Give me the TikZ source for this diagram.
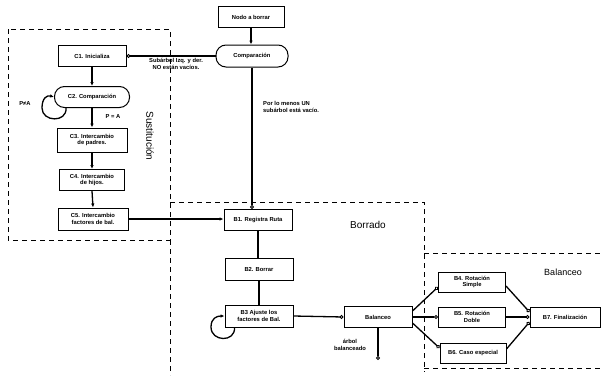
\documentclass[tikz,border=0pt]{standalone}
\usepackage{fontspec}
\setmainfont{Liberation Sans}
\usetikzlibrary{arrows.meta,calc}
\begin{document}
\begin{tikzpicture}[x=1pt,y=-1pt,
  every node/.style={font=\fontsize{5.8}{6.8}\selectfont\bfseries, inner sep=1pt},
  box/.style={draw, line width=1pt, minimum width=68pt, minimum height=21pt, align=center},
  rbox/.style={box, rounded corners=10pt},
  conn/.style={line width=1.3pt, -{Latex[length=4pt,width=3.5pt]}},
  oconn/.style={line width=1.3pt, -{Circle[open,length=4pt,line width=0.9pt]}},
  frame/.style={line width=1pt, dash pattern=on 5pt off 4pt},
  biglabel/.style={font=\fontsize{10}{12}\selectfont}
]
\useasboundingbox (0,0) rectangle (604,375);
\fill[white] (0,0) rectangle (604,375);

% dashed frames
\draw[frame] (8,29) rectangle (170,240);
\draw[frame] (170,240) -- (170,375);
\draw[frame] (170,202) -- (424,202) -- (424,372);
\draw[frame] (424,253) -- (604,253);
\draw[frame] (424,368) -- (604,368);

% top
\node[box, minimum width=66pt] (nodo) at (251,17) {Nodo a borrar};
\node[rbox, minimum width=72pt, minimum height=22pt] (comp) at (252,56) {Comparación};

% Sustitucion
\node[box] (c1) at (92,56) {C1. Inicializa};
\node[rbox, minimum width=75pt] (c2) at (92,97) {C2. Comparación};
\node[box, minimum width=70pt, minimum height=24pt] (c3) at (92,140) {C3. Intercambio\\de padres.};
\node[box, minimum width=65pt] (c4) at (92,180) {C4. Intercambio\\de hijos.};
\node[box, minimum width=70pt, minimum height=22pt] (c5) at (93,219) {C5. Intercambio\\factores de bal.};

% Borrado
\node[box] (b1) at (258,220) {B1. Registra Ruta};
\node[box, minimum height=22pt] (b2) at (259,269) {B2. Borrar};
\node[box, minimum height=22pt] (b3) at (259,316) {B3 Ajuste los\\factores de Bal.};
\node[box] (bal) at (378,317) {Balanceo};

% Balanceo
\node[box, minimum width=67pt, minimum height=20pt] (b4) at (472,282) {B4. Rotación\\Simple};
\node[box, minimum width=67pt, minimum height=20pt] (b5) at (472,317) {B5. Rotación\\Doble};
\node[box, minimum width=66pt, minimum height=20pt] (b6) at (473,353) {B6. Caso especial};
\node[box, minimum width=70pt, minimum height=20pt] (b7) at (565,317) {B7. Finalización};

% labels
\node[biglabel, rotate=-90] (lsus) at (150,136) {Sustitución};
\node[biglabel] (lbor) at (368,225) {Borrado};
\node[biglabel, font=\fontsize{9}{11}\selectfont] (lbal) at (563,272) {Balanceo};
\node[align=center] (lsub) at (176,64) {Subárbol Izq. y der.\\NO están vacíos.};
\node[align=left, anchor=west] (lpor) at (262,107) {Por lo menos UN\\subárbol está vacío.};
\node (lpne) at (25,104) {P≠A};
\node (lpeq) at (113,117) {P = A};
\node[align=center] (larb) at (350,345) {árbol\\balanceado};

% connectors
\draw[conn] (nodo.south) -- (nodo.south |- comp.north);
\draw[oconn] (comp.west) -- (c1.east);
\draw[oconn] (comp.south) -- (comp.south |- b1.north);
\draw[conn] (c1.south) -- (c2.north);
\draw[conn] (c2.south) -- (c3.north);
\draw[conn] (c3.south) -- (c4.north);
\draw[conn] (c4.south) -- (c5.north);
\draw[conn] (c5.east) -- (c5.east -| b1.west);
\draw[line width=1.3pt] (b1.south) -- (b1.south |- b2.north);
\draw[line width=1.3pt] (b2.south) -- (b2.south |- b3.north);
\draw[oconn] (b3.east) -- (bal.west);
\coordinate (bdown) at (378,360);
\draw[oconn] (bal.south) -- (bdown);
\draw[oconn] ($(bal.east)+(0,-6)$) -- ($(b4.west)+(0,5)$);
\draw[oconn] (bal.east) -- (b5.west);
\draw[oconn] ($(bal.east)+(0,6)$) -- ($(b6.west)+(0,-5)$);
\draw[oconn] ($(b4.east)+(0,4)$) -- ($(b7.west)+(0,-5)$);
\draw[oconn] (b5.east) -- (b7.west);
\draw[oconn] ($(b6.east)+(0,-4)$) -- ($(b7.west)+(0,5)$);

% loops
\draw[line width=1.3pt, -{Latex[length=4pt,width=3.5pt]}]
  ($(c2.south)+(-26,0)$) .. controls +(1,15) and (42,122) .. (42,108)
  .. controls (42,98) and (47,95) .. (c2.west);
\draw[line width=1.3pt, -{Latex[length=4pt,width=3.5pt]}]
  ($(b3.south west)+(10,0)$) .. controls +(1,15) and (211,342) .. (211,327)
  .. controls (211,318) and (217,316) .. (b3.west);
\end{tikzpicture}
\end{document}
